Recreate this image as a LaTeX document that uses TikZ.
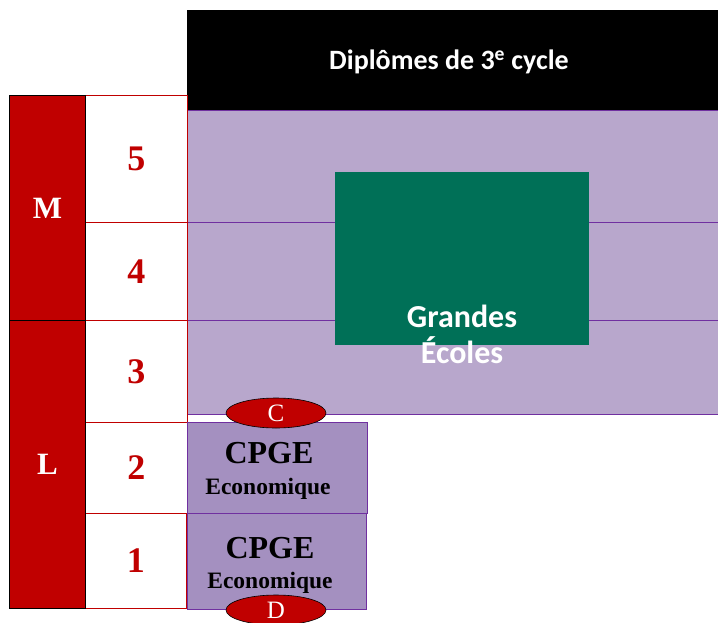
\documentclass[tikz,border=0pt]{standalone}
\usepackage{fontspec}
\setmainfont{Liberation Serif}
\newfontfamily\calib{Carlito}
\usetikzlibrary{shapes.geometric}
\definecolor{lmdred}{HTML}{C00000}
\definecolor{lmdlav}{HTML}{B8A7CC}
\definecolor{lmdcpge}{HTML}{A490C0}
\definecolor{lmdline}{HTML}{7030A0}
\definecolor{lmdgreen}{HTML}{007057}
\tikzset{
  cell/.style={draw=lmdred, fill=white, line width=0.8pt, anchor=north west, inner sep=0pt, minimum width=102pt},
  degree/.style={draw=black, fill=lmdred, line width=1pt, anchor=north west, inner sep=0pt, minimum width=76pt, text=white, font=\bfseries\fontsize{31}{31}\selectfont},
  num/.style={text=lmdred, font=\bfseries\fontsize{36}{36}\selectfont},
  cpge/.style={draw=lmdline, fill=lmdcpge, line width=0.8pt, anchor=north west, inner sep=0pt, minimum width=180pt},
  oval/.style={ellipse, draw=black, fill=lmdred, line width=0.6pt, minimum width=100pt, minimum height=30pt, inner sep=0pt, text=white, font=\fontsize{25}{25}\selectfont},
  bigtxt/.style={anchor=base, font=\bfseries\fontsize{32}{32}\selectfont},
  smalltxt/.style={anchor=base, font=\bfseries\fontsize{23.5}{23.5}\selectfont},
  getext/.style={text=white, anchor=base, font=\calib\bfseries\fontsize{32}{32}\selectfont},
}
\begin{document}
\begin{tikzpicture}[x=1pt,y=-1pt]
\useasboundingbox (0,0) rectangle (718,622);
% background lavender block
\node[draw=lmdline, fill=lmdlav, line width=0.6pt, anchor=north west, inner sep=0pt, minimum width=540pt, minimum height=304pt] (lav) at (187,110) {};
\coordinate (l4a) at (187,222); \coordinate (l4b) at (727,222);
\coordinate (l3a) at (187,320); \coordinate (l3b) at (727,320);
\draw[lmdline, line width=0.8pt] (l4a) -- (l4b);
\draw[lmdline, line width=0.8pt] (l3a) -- (l3b);
% black header
\node[fill=black, anchor=north west, inner sep=0pt, minimum width=540pt, minimum height=100pt] (head) at (187,10) {};
\node[text=white, font=\calib\bfseries\fontsize{28}{28}\selectfont] (headtxt) at (449,62) {Diplômes de 3\textsuperscript{e} cycle};
% green block
\node[fill=lmdgreen, anchor=north west, inner sep=0pt, minimum width=254pt, minimum height=173pt] (ge) at (335,172) {};
\node[getext] (getxt1) at (462,327) {Grandes};
\node[getext] (getxt2) at (462,363) {Écoles};
% number cells
\node[cell, minimum height=127pt] (c5) at (85,95) {};
\node[cell, minimum height=98pt] (c4) at (85,222) {};
\node[cell, minimum height=102pt] (c3) at (85,320) {};
\node[cell, minimum height=91pt] (c2) at (85,422) {};
\node[cell, minimum height=95pt, minimum width=101pt] (c1) at (85,513) {};
\node[num] (n5) at (c5.center) {5};
\node[num] (n4) at (c4.center) {4};
\node[num] (n3) at (c3.center) {3};
\node[num] (n2) at (c2.center) {2};
\node[num] (n1) at (c1.center) {1};
% degree column
\node[degree, minimum height=225pt] (M) at (9,95) {M};
\node[degree, minimum height=288pt] (L) at (9,320) {L};
% CPGE boxes
\node[cpge, minimum height=91pt] (cp2) at (187,422) {};
\node[cpge, minimum height=96pt, minimum width=179pt] (cp1) at (187,513) {};
\node[bigtxt] (cp2a) at (269,463) {CPGE};
\node[smalltxt] (cp2b) at (268,494) {Economique};
\node[bigtxt] (cp1a) at (270,558) {CPGE};
\node[smalltxt] (cp1b) at (270,588) {Economique};
% ovals
\node[oval] (C) at (276,413) {C};
\node[oval] (D) at (276,610) {D};
\end{tikzpicture}
\end{document}
